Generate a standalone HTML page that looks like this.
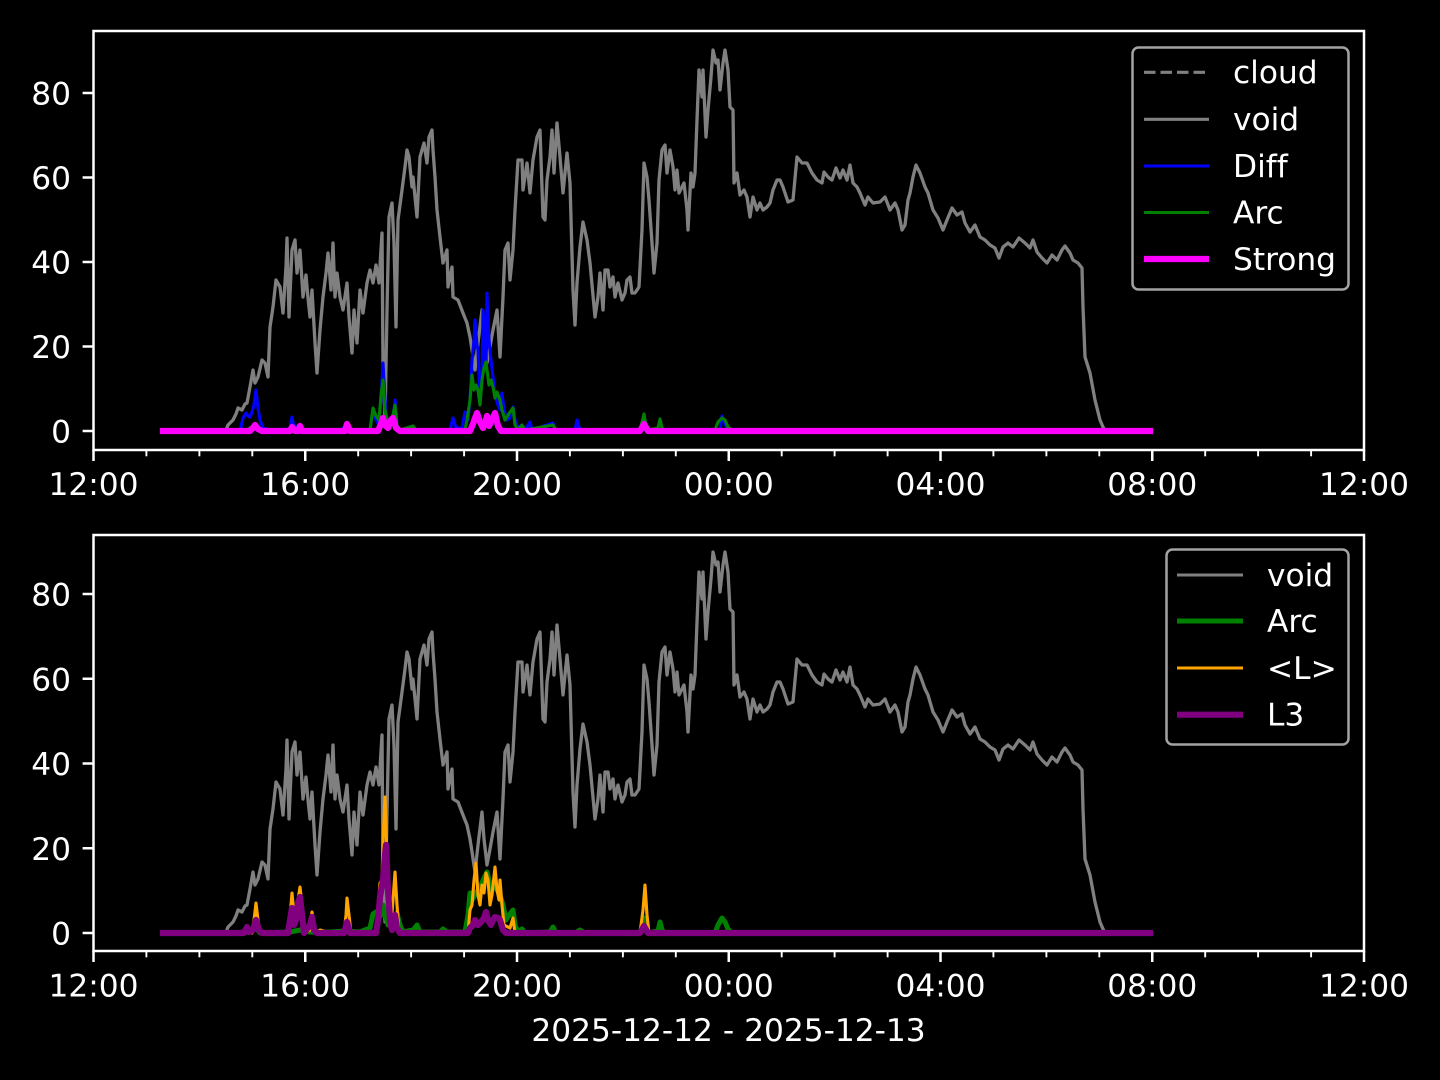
<!DOCTYPE html>
<html><head><meta charset="utf-8">
<style>
html,body{margin:0;padding:0;background:#000;}
svg{display:block;}
text{font-family:"DejaVu Sans","Liberation Sans",sans-serif;font-size:31.25px;fill:#fff;font-variant-ligatures:none;font-feature-settings:"liga" 0,"clig" 0;}
</style></head>
<body>
<svg width="1440" height="1080" viewBox="0 0 1440 1080" xmlns="http://www.w3.org/2000/svg">
<rect width="1440" height="1080" fill="#000"/>
<defs>
<polyline id="voidline" fill="none" stroke="#808080" stroke-width="3.3" stroke-linejoin="round" points="163,431 226,430 228,425 233,420 236,414 238,408 242,410 245,404 247,403 250,387 253,370 255,383 258,377 262,360 265,363 268,377 270,327 273,307 276,280 280,287 283,313 286,267 287,238 289,317 292,250 295,240 297,273 300,250 303,297 306,275 308,298 310,317 312,290 315,343 317,373 320,330 323,297 326,273 328,253 331,290 333,243 335,297 337,273 340,297 343,310 347,283 349,317 352,353 354,310 357,343 360,290 363,313 367,283 370,270 373,283 376,265 379,283 382,233 383,363 385,420 387,310 389,217 392,203 394,243 396,327 398,220 402,190 405,167 407,150 409,157 412,187 413,177 417,217 420,157 424,143 427,163 429,137 432,130 433,150 435,177 437,210 440,237 443,263 447,250 448,287 452,267 453,297 458,300 463,313 467,323 470,337 472,350 475,370 478,343 482,310 484,337 487,363 490,347 493,330 497,310 500,357 503,297 505,250 508,243 510,280 513,250 515,210 518,160 522,160 523,190 527,163 530,193 533,160 537,137 540,130 543,217 545,220 547,180 550,157 552,130 554,173 557,123 560,157 563,193 567,153 570,183 573,290 575,325 577,283 580,247 583,222 587,240 590,263 595,317 598,297 600,273 603,310 605,270 608,270 610,287 613,277 615,297 618,283 622,300 625,293 627,280 630,277 632,293 635,293 639,287 642,230 644,163 647,177 649,200 652,243 654,273 657,243 659,180 662,150 665,145 667,173 670,150 673,167 675,190 677,170 679,193 682,187 684,183 687,210 688,230 691,173 693,187 695,173 697,120 699,70 702,97 703,70 706,137 708,110 711,77 713,50 716,63 718,60 720,90 723,63 725,50 728,70 730,107 733,110 734,183 737,173 740,195 744,190 747,197 750,217 753,197 757,210 760,203 763,210 767,207 770,203 773,190 777,180 780,180 783,187 788,202 793,200 797,157 802,163 807,163 812,173 817,180 822,183 824,172 828,177 832,180 836,168 840,178 843,170 847,180 850,165 853,183 857,187 860,193 865,205 868,197 873,203 880,202 885,197 890,210 895,203 898,210 902,230 905,225 908,200 910,193 913,177 916,165 920,173 925,187 928,193 933,210 938,218 943,230 947,220 952,208 957,215 962,212 965,223 970,232 975,225 980,237 985,240 990,245 995,248 999,258 1003,247 1008,243 1013,247 1019,238 1025,243 1030,248 1033,240 1037,252 1042,258 1047,263 1052,255 1057,260 1062,250 1065,246 1070,253 1073,260 1078,263 1082,268 1083,307 1085,357 1090,373 1095,400 1100,420 1103,427 1105,431 1150,431"/>
</defs>

<!-- ============ TOP AXES ============ -->
<use href="#voidline"/>
<!-- Diff blue -->
<polyline fill="none" stroke="#0000ff" stroke-width="3.1" stroke-linejoin="round" points="163,431 240,431 243,418 246,413 248,416 250,417 252,412 254,405 256,390 258,408 260,420 263,428 270,430 290,429 292,417 294,428 300,425 303,430 340,430 347,426 349,430 370,430 373,410 376,420 379,425 381,400 383,363 385,400 387,425 390,428 393,420 395,400 397,425 400,430 450,430 453,418 456,428 462,428 465,412 468,420 470,400 472,360 474,340 475,320 477,345 478,350 480,400 482,380 483,310 485,340 486,370 487,293 489,340 491,360 493,377 495,395 498,405 500,410 502,393 504,410 507,420 510,418 513,407 515,420 518,428 522,425 525,430 530,422 532,430 553,423 555,430 575,430 577,420 580,430 720,430 722,416 725,424 728,430 1150,430"/>
<!-- Arc green -->
<polyline fill="none" stroke="#008000" stroke-width="3.1" stroke-linejoin="round" points="163,431 245,431 250,428 255,425 260,430 370,430 373,408 376,416 379,420 381,395 383,380 385,410 388,425 393,415 395,405 397,425 400,430 413,426 416,430 465,430 467,420 470,400 472,375 474,390 476,385 478,390 480,405 482,380 484,368 486,362 487,370 489,385 491,380 493,387 495,398 497,392 500,400 502,410 505,420 510,412 513,408 515,425 518,430 522,425 525,430 553,425 556,430 640,430 643,418 644,414 646,425 648,430 658,428 660,419 662,428 665,430 715,430 718,422 722,418 725,420 728,427 732,430 1150,430"/>
<!-- Strong magenta -->
<polyline fill="none" stroke="#ff00ff" stroke-width="6.2" stroke-linejoin="round" stroke-linecap="square" points="163,431 250,431 253,428 255,425 258,429 262,431 290,431 292,427 295,431 298,431 300,426 302,431 345,431 347,424 350,431 378,431 381,424 383,418 385,425 388,428 391,420 393,418 396,428 400,431 470,431 473,424 475,418 477,413 480,422 483,428 486,420 487,416 489,426 492,420 495,413 498,426 501,431 640,431 644,424 648,431 1150,431"/>

<!-- top spines -->
<rect x="93.5" y="31" width="1270.5" height="419" fill="none" stroke="#fff" stroke-width="2.5"/>
<!-- top y ticks -->
<g stroke="#fff" stroke-width="2.5">
<line x1="82.6" y1="431" x2="93.5" y2="431"/>
<line x1="82.6" y1="346.5" x2="93.5" y2="346.5"/>
<line x1="82.6" y1="262" x2="93.5" y2="262"/>
<line x1="82.6" y1="177.5" x2="93.5" y2="177.5"/>
<line x1="82.6" y1="93" x2="93.5" y2="93"/>
</g>
<g text-anchor="end">
<text x="71" y="442.5">0</text>
<text x="71" y="358">20</text>
<text x="71" y="273.5">40</text>
<text x="71" y="189">60</text>
<text x="71" y="104.5">80</text>
</g>
<!-- top x ticks -->
<g stroke="#fff" stroke-width="2.5">
<line x1="93.5" y1="450" x2="93.5" y2="461"/>
<line x1="305.25" y1="450" x2="305.25" y2="461"/>
<line x1="517" y1="450" x2="517" y2="461"/>
<line x1="728.75" y1="450" x2="728.75" y2="461"/>
<line x1="940.5" y1="450" x2="940.5" y2="461"/>
<line x1="1152.25" y1="450" x2="1152.25" y2="461"/>
<line x1="1364" y1="450" x2="1364" y2="461"/>
</g>
<g stroke="#fff" stroke-width="1.9">
<line x1="146.4" y1="450" x2="146.4" y2="456.3"/><line x1="199.4" y1="450" x2="199.4" y2="456.3"/><line x1="252.3" y1="450" x2="252.3" y2="456.3"/>
<line x1="358.2" y1="450" x2="358.2" y2="456.3"/><line x1="411.1" y1="450" x2="411.1" y2="456.3"/><line x1="464.1" y1="450" x2="464.1" y2="456.3"/>
<line x1="569.9" y1="450" x2="569.9" y2="456.3"/><line x1="622.9" y1="450" x2="622.9" y2="456.3"/><line x1="675.8" y1="450" x2="675.8" y2="456.3"/>
<line x1="781.7" y1="450" x2="781.7" y2="456.3"/><line x1="834.6" y1="450" x2="834.6" y2="456.3"/><line x1="887.6" y1="450" x2="887.6" y2="456.3"/>
<line x1="993.4" y1="450" x2="993.4" y2="456.3"/><line x1="1046.4" y1="450" x2="1046.4" y2="456.3"/><line x1="1099.3" y1="450" x2="1099.3" y2="456.3"/>
<line x1="1205.2" y1="450" x2="1205.2" y2="456.3"/><line x1="1258.1" y1="450" x2="1258.1" y2="456.3"/><line x1="1311.1" y1="450" x2="1311.1" y2="456.3"/>
</g>
<g text-anchor="middle">
<text x="93.5" y="495">12:00</text>
<text x="305.25" y="495">16:00</text>
<text x="517" y="495">20:00</text>
<text x="728.75" y="495">00:00</text>
<text x="940.5" y="495">04:00</text>
<text x="1152.25" y="495">08:00</text>
<text x="1364" y="495">12:00</text>
</g>

<!-- top legend -->
<rect x="1132.5" y="47.5" width="216" height="242" rx="6" ry="6" fill="#000" fill-opacity="0.8" stroke="#a3a3a3" stroke-width="2.5"/>
<line x1="1144" y1="72.3" x2="1209" y2="72.3" stroke="#808080" stroke-width="3.1" stroke-dasharray="11.5,5"/>
<line x1="1144" y1="119.3" x2="1209" y2="119.3" stroke="#808080" stroke-width="3.1"/>
<line x1="1144" y1="166" x2="1209" y2="166" stroke="#0000ff" stroke-width="3.1"/>
<line x1="1144" y1="212.5" x2="1209" y2="212.5" stroke="#008000" stroke-width="3.1"/>
<line x1="1144" y1="259" x2="1209" y2="259" stroke="#ff00ff" stroke-width="6.2"/>
<text x="1233" y="83">cloud</text>
<text x="1233" y="130">void</text>
<text x="1233" y="177">Diff</text>
<text x="1233" y="223.5">Arc</text>
<text x="1233" y="270">Strong</text>

<!-- ============ BOTTOM AXES ============ -->
<use href="#voidline" transform="translate(0,502)"/>
<!-- Arc green -->
<polyline fill="none" stroke="#008000" stroke-width="5" stroke-linejoin="round" points="163,933 240,933 245,931 250,930 256,928 260,933 290,932 300,930 310,932 330,932 345,931 360,932 370,928 373,914 376,912 379,918 381,915 383,905 385,913 388,925 392,924 395,915 397,913 400,925 403,932 413,930 417,925 420,932 440,932 443,929 447,932 465,932 468,915 470,893 472,900 475,895 478,890 481,885 484,878 487,872 489,880 491,890 494,885 497,890 500,895 503,905 506,920 510,914 513,910 515,925 518,932 522,929 525,933 550,932 553,927 556,933 575,933 580,930 585,933 640,933 643,922 644,918 646,928 648,933 658,931 660,922 662,930 665,933 715,933 718,925 722,918 725,922 728,929 732,933 1150,933"/>
<!-- <L> orange -->
<polyline fill="none" stroke="#ffa500" stroke-width="3.1" stroke-linejoin="round" points="163,933 252,933 254,920 256,903 258,920 260,933 289,933 291,905 292,893 294,915 296,918 298,900 300,887 302,905 304,933 310,930 312,912 314,930 316,933 320,930 330,933 344,933 346,915 347,898 349,915 351,933 376,933 378,910 380,883 382,880 383,840 385,797 387,860 389,905 391,925 393,900 395,872 397,905 399,933 468,933 470,910 472,905 474,880 476,863 478,895 480,905 482,885 484,893 486,873 488,880 490,905 492,895 495,867 497,890 499,900 500,880 502,905 504,925 510,928 513,918 515,933 640,933 643,910 645,885 647,915 649,933 1150,933"/>
<!-- L3 purple -->
<polyline fill="none" stroke="#800080" stroke-width="6.2" stroke-linejoin="round" stroke-linecap="square" points="163,933 244,933 247,927 249,932 253,930 256,920 259,930 262,933 288,933 290,920 292,908 294,925 296,920 298,903 300,897 302,915 304,933 310,925 312,917 314,930 317,933 344,933 347,922 350,933 376,933 378,920 380,897 383,880 385,855 386,845 388,890 390,920 392,930 395,915 397,928 400,933 468,933 470,928 473,925 475,920 478,925 481,922 484,918 486,912 488,920 491,925 493,920 495,917 498,918 500,920 503,930 506,933 640,933 644,926 648,933 1150,933"/>

<!-- bottom spines -->
<rect x="93.5" y="535" width="1270.5" height="416" fill="none" stroke="#fff" stroke-width="2.5"/>
<g stroke="#fff" stroke-width="2.5">
<line x1="82.6" y1="933" x2="93.5" y2="933"/>
<line x1="82.6" y1="848.25" x2="93.5" y2="848.25"/>
<line x1="82.6" y1="763.5" x2="93.5" y2="763.5"/>
<line x1="82.6" y1="678.75" x2="93.5" y2="678.75"/>
<line x1="82.6" y1="594" x2="93.5" y2="594"/>
</g>
<g text-anchor="end">
<text x="71" y="944.5">0</text>
<text x="71" y="859.75">20</text>
<text x="71" y="775">40</text>
<text x="71" y="690.25">60</text>
<text x="71" y="605.5">80</text>
</g>
<g stroke="#fff" stroke-width="2.5">
<line x1="93.5" y1="951" x2="93.5" y2="962"/>
<line x1="305.25" y1="951" x2="305.25" y2="962"/>
<line x1="517" y1="951" x2="517" y2="962"/>
<line x1="728.75" y1="951" x2="728.75" y2="962"/>
<line x1="940.5" y1="951" x2="940.5" y2="962"/>
<line x1="1152.25" y1="951" x2="1152.25" y2="962"/>
<line x1="1364" y1="951" x2="1364" y2="962"/>
</g>
<g stroke="#fff" stroke-width="1.9">
<line x1="146.4" y1="951" x2="146.4" y2="957.3"/><line x1="199.4" y1="951" x2="199.4" y2="957.3"/><line x1="252.3" y1="951" x2="252.3" y2="957.3"/>
<line x1="358.2" y1="951" x2="358.2" y2="957.3"/><line x1="411.1" y1="951" x2="411.1" y2="957.3"/><line x1="464.1" y1="951" x2="464.1" y2="957.3"/>
<line x1="569.9" y1="951" x2="569.9" y2="957.3"/><line x1="622.9" y1="951" x2="622.9" y2="957.3"/><line x1="675.8" y1="951" x2="675.8" y2="957.3"/>
<line x1="781.7" y1="951" x2="781.7" y2="957.3"/><line x1="834.6" y1="951" x2="834.6" y2="957.3"/><line x1="887.6" y1="951" x2="887.6" y2="957.3"/>
<line x1="993.4" y1="951" x2="993.4" y2="957.3"/><line x1="1046.4" y1="951" x2="1046.4" y2="957.3"/><line x1="1099.3" y1="951" x2="1099.3" y2="957.3"/>
<line x1="1205.2" y1="951" x2="1205.2" y2="957.3"/><line x1="1258.1" y1="951" x2="1258.1" y2="957.3"/><line x1="1311.1" y1="951" x2="1311.1" y2="957.3"/>
</g>
<g text-anchor="middle">
<text x="93.5" y="996.5">12:00</text>
<text x="305.25" y="996.5">16:00</text>
<text x="517" y="996.5">20:00</text>
<text x="728.75" y="996.5">00:00</text>
<text x="940.5" y="996.5">04:00</text>
<text x="1152.25" y="996.5">08:00</text>
<text x="1364" y="996.5">12:00</text>
<text x="728.5" y="1041">2025-12-12 - 2025-12-13</text>
</g>

<!-- bottom legend -->
<rect x="1166.5" y="549.5" width="182" height="195" rx="6" ry="6" fill="#000" fill-opacity="0.8" stroke="#a3a3a3" stroke-width="2.5"/>
<line x1="1177" y1="575" x2="1243" y2="575" stroke="#808080" stroke-width="3.1"/>
<line x1="1177" y1="621" x2="1243" y2="621" stroke="#008000" stroke-width="5"/>
<line x1="1177" y1="668" x2="1243" y2="668" stroke="#ffa500" stroke-width="3.1"/>
<line x1="1177" y1="714.7" x2="1243" y2="714.7" stroke="#800080" stroke-width="6.2"/>
<text x="1267" y="586">void</text>
<text x="1267" y="632">Arc</text>
<text x="1267" y="679">&lt;L&gt;</text>
<text x="1267" y="725.5">L3</text>
</svg>
</body></html>
